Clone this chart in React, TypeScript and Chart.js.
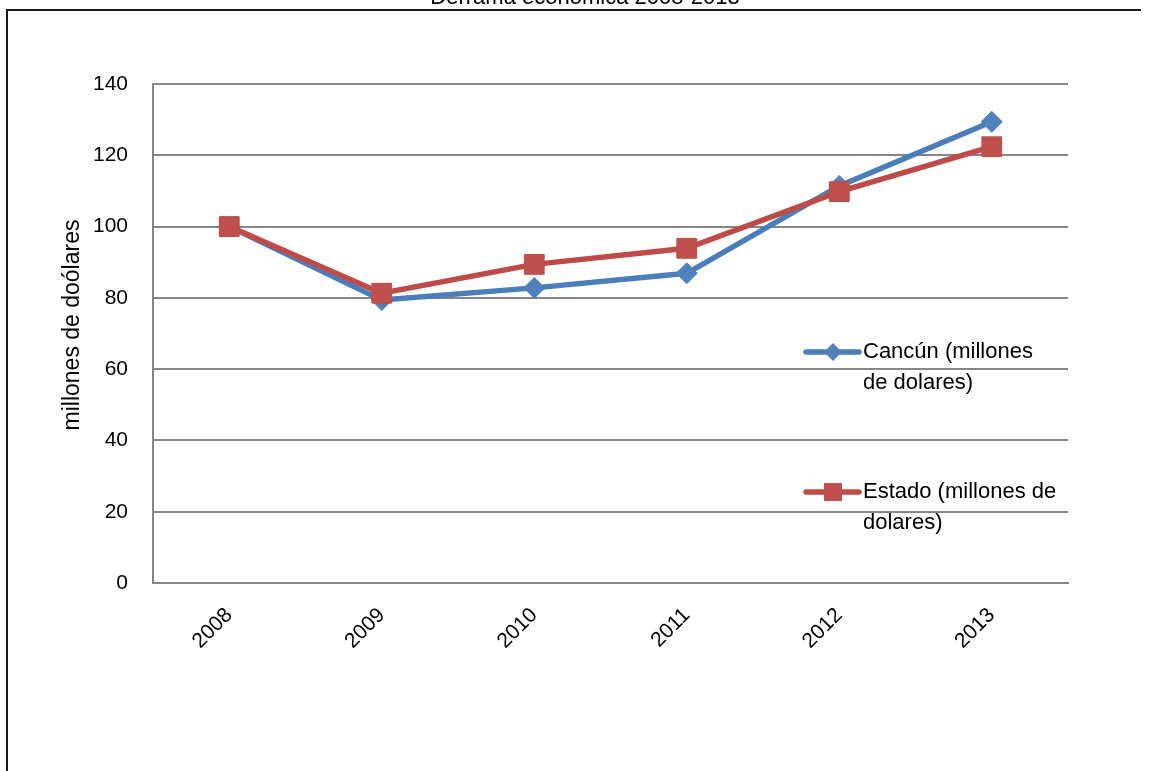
import React, { useEffect, useRef } from "react";
import { Chart, registerables } from "chart.js";

Chart.register(...registerables);

const chartTitle = "Derrama económica 2008-2013";
const yAxisTitle = "millones de doólares";
const years = ["2008", "2009", "2010", "2011", "2012", "2013"];
const cancun = [100, 79.4, 82.8, 86.9, 111.4, 129.4];
const estado = [100, 81.3, 89.4, 93.9, 109.8, 122.4];
const seriesNames = ["Cancún (millones de dolares)", "Estado (millones de dolares)"];
const legendLines = [
  ["Cancún (millones", "de dolares)"],
  ["Estado (millones de", "dolares)"],
];
const yMin = 0;
const yMax = 140;
const yStep = 20;

const FONT = "'Liberation Sans', Arial, sans-serif";

const decorPlugin = {
  id: "decor",
  afterDraw(chart: any) {
    const ctx = chart.ctx;
    ctx.save();
    // outer frame
    ctx.strokeStyle = "#1a1a1a";
    ctx.lineWidth = 2;
    ctx.beginPath();
    ctx.moveTo(7, 771);
    ctx.lineTo(7, 10);
    ctx.lineTo(1141, 10);
    ctx.stroke();
    // title (clipped at top)
    ctx.fillStyle = "#000";
    ctx.font = `22px ${FONT}`;
    ctx.textAlign = "center";
    ctx.textBaseline = "alphabetic";
    ctx.fillText(chartTitle, 585, 4);
    // y axis title
    ctx.save();
    ctx.translate(73, 325);
    ctx.rotate(-Math.PI / 2);
    ctx.font = `23px ${FONT}`;
    ctx.textAlign = "center";
    ctx.textBaseline = "middle";
    ctx.fillText(yAxisTitle, 0, 0);
    ctx.restore();
    // legend
    const legendY = [352, 492];
    chart.data.datasets.forEach((ds: any, i: number) => {
      const y = legendY[i];
      ctx.strokeStyle = ds.borderColor;
      ctx.lineWidth = 5.5;
      ctx.lineCap = "round";
      ctx.beginPath();
      ctx.moveTo(806, y);
      ctx.lineTo(859, y);
      ctx.stroke();
      ctx.fillStyle = ds.pointBackgroundColor;
      ctx.beginPath();
      if (ds.pointStyle === "rectRot") {
        const r = 9;
        ctx.moveTo(833, y - r);
        ctx.lineTo(833 + r, y);
        ctx.lineTo(833, y + r);
        ctx.lineTo(833 - r, y);
        ctx.closePath();
      } else {
        ctx.rect(824, y - 9, 18, 18);
      }
      ctx.fill();
      ctx.fillStyle = "#000";
      ctx.font = `22px ${FONT}`;
      ctx.textAlign = "left";
      ctx.textBaseline = "alphabetic";
      legendLines[i].forEach((line, j) => {
        ctx.fillText(line, 863, y + 6 + j * 31);
      });
    });
    ctx.restore();
  },
};

export default function App() {
  const ref = useRef<HTMLCanvasElement | null>(null);
  useEffect(() => {
    if (!ref.current) return;
    const chart = new Chart(ref.current, {
      type: "line",
      data: {
        labels: years,
        datasets: [
          {
            label: seriesNames[0],
            data: cancun,
            borderColor: "#4A7EBB",
            backgroundColor: "#4F81BD",
            pointBackgroundColor: "#4F81BD",
            pointBorderColor: "#4A7EBB",
            pointStyle: "rectRot",
            pointRadius: 10.5,
            pointBorderWidth: 1,
            borderWidth: 5.5,
            tension: 0,
            order: 1,
          },
          {
            label: seriesNames[1],
            data: estado,
            borderColor: "#BE4B48",
            backgroundColor: "#C0504D",
            pointBackgroundColor: "#C0504D",
            pointBorderColor: "#BE4B48",
            pointStyle: "rect",
            pointRadius: 14,
            pointBorderWidth: 1,
            borderWidth: 5.5,
            tension: 0,
            order: 0,
          },
        ],
      },
      options: {
        responsive: false,
        animation: false,
        layout: { padding: { top: 84, right: 83, left: 0, bottom: 0 } },
        plugins: {
          legend: { display: false },
          tooltip: { enabled: false },
          title: { display: false },
        },
        scales: {
          x: {
            offset: true,
            afterFit: (s: any) => {
              s.height = 188;
            },
            grid: { display: false, drawTicks: false },
            border: { display: true, color: "#868686", width: 2 },
            ticks: {
              color: "#000",
              font: { family: FONT, size: 21 },
              minRotation: 45,
              maxRotation: 45,
              padding: 20,
            },
          },
          y: {
            min: yMin,
            max: yMax,
            afterFit: (s: any) => {
              s.width = 153;
            },
            grid: { color: "#868686", lineWidth: 2, drawTicks: false },
            border: { display: true, color: "#868686", width: 2 },
            ticks: {
              stepSize: yStep,
              color: "#000",
              font: { family: FONT, size: 21 },
              padding: 25,
            },
          },
        },
      },
      plugins: [decorPlugin],
    });
    return () => chart.destroy();
  }, []);
  return (
    <div
      style={{
        position: "fixed",
        left: 0,
        top: 0,
        width: 1151,
        height: 771,
        background: "#fff",
      }}
    >
      <canvas ref={ref} width={1151} height={771} style={{ display: "block" }} />
    </div>
  );
}
